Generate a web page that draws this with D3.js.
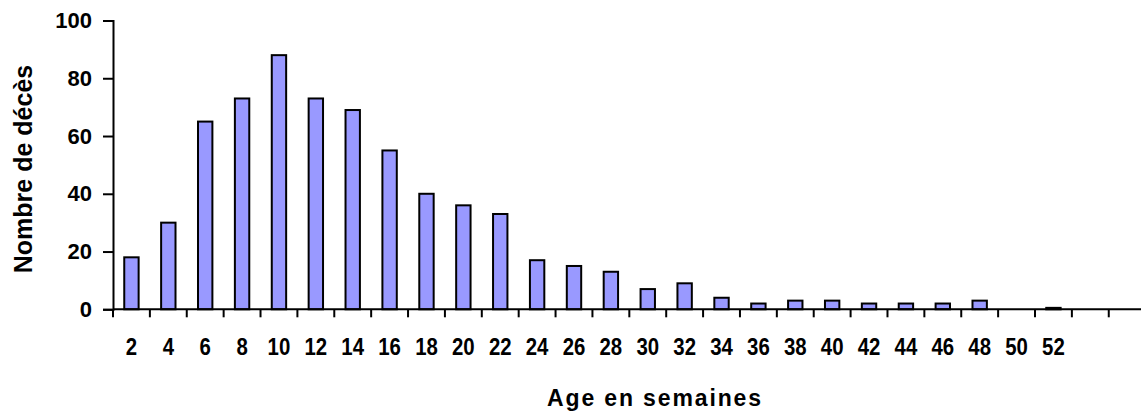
<!DOCTYPE html>
<html lang="en">
<head>
<meta charset="utf-8">
<title>deces par age</title>
<script src="https://d3js.org/d3.v7.min.js"></script>
<style>
body{margin:0;background:#fff;font-family:"Liberation Sans",Arial,Helvetica,sans-serif;}
svg text{font-weight:bold;fill:#000;}
</style>
</head>
<body>
<div id="chart"></div>
<script>
// age in weeks and number of deaths
var weeks = [2,4,6,8,10,12,14,16,18,20,22,24,26,28,30,32,34,36,38,40,42,44,46,48,50,52]
var deaths = [18,30,65,73,88,73,69,55,40,36,33,17,15,13,7,9,4,2,3,3,2,2,2,3,0,0.5]
var yTicks = [0,20,40,60,80,100]
var nSlots = 28 // the axis keeps going past week 52

var w = 1141, h = 413
var plotLeft = 113, plotTop = 20.5, plotBottom = 309.3
var slotW = 36.88
var squeeze = 0.85 // x tick labels are narrow

var svg = d3.select("#chart").append("svg")
    .attr("width", w).attr("height", h)

var x = d3.scaleBand().domain(d3.range(nSlots)).range([plotLeft, plotLeft + nSlots*slotW])
var y = d3.scaleLinear().domain([0,100]).range([plotBottom, plotTop])

// bars
var bw = x.bandwidth()*0.39
svg.selectAll("rect.bar")
    .data(deaths)
    .enter()
    .append("rect")
    .attr("class","bar")
    .attr("x", function(d,i){ return x(i) + x.bandwidth()/2 - bw/2 })
    .attr("y", function(d){ return y(d) })
    .attr("width", bw)
    .attr("height", function(d){ return plotBottom - y(d) })
    .attr("fill","#9999ff")
    .attr("stroke","#000")
    .attr("stroke-width",2)

// y axis
var yAxis = svg.append("g")
    .attr("transform","translate("+plotLeft+",0)")
    .call(d3.axisLeft(y).tickValues(yTicks).tickSize(10).tickPadding(11))
yAxis.select(".domain").attr("stroke-width",2).attr("stroke","#000")
yAxis.selectAll(".tick line").attr("stroke-width",2).attr("stroke","#000")
yAxis.selectAll(".tick text")
    .style("font-size","22px")
    .style("font-family","'Liberation Sans',Arial,sans-serif")

// x axis: labels centred in slots, ticks on the slot edges
var xAxis = svg.append("g")
    .attr("transform","translate(0,"+plotBottom+")")
    .call(d3.axisBottom(x).tickSize(0).tickPadding(29)
        .tickFormat(function(i){ return weeks[i] == null ? "" : weeks[i] }))
xAxis.select(".domain").remove()
xAxis.selectAll(".tick text")
    .style("font-size","24px")
    .style("font-family","'Liberation Sans',Arial,sans-serif")
    .attr("transform","scale("+squeeze+",1)")

svg.append("line")
    .attr("x1",plotLeft).attr("x2",w)
    .attr("y1",plotBottom).attr("y2",plotBottom)
    .attr("stroke","#000").attr("stroke-width",2)

svg.selectAll("line.edge")
    .data(d3.range(nSlots))
    .enter()
    .append("line")
    .attr("class","edge")
    .attr("x1", function(i){ return x(i) }).attr("x2", function(i){ return x(i) })
    .attr("y1", plotBottom).attr("y2", plotBottom + 8)
    .attr("stroke","#000").attr("stroke-width",2)

// axis titles
svg.append("text")
    .attr("x",654).attr("y",406)
    .attr("text-anchor","middle")
    .style("font-size","23px")
    .attr("textLength",214)
    .attr("lengthAdjust","spacing")
    .text("Age en semaines")

svg.append("text")
    .attr("transform","translate(32,169) rotate(-90)")
    .attr("text-anchor","middle")
    .style("font-size","25px")
    .text("Nombre de décès")
</script>
</body>
</html>
